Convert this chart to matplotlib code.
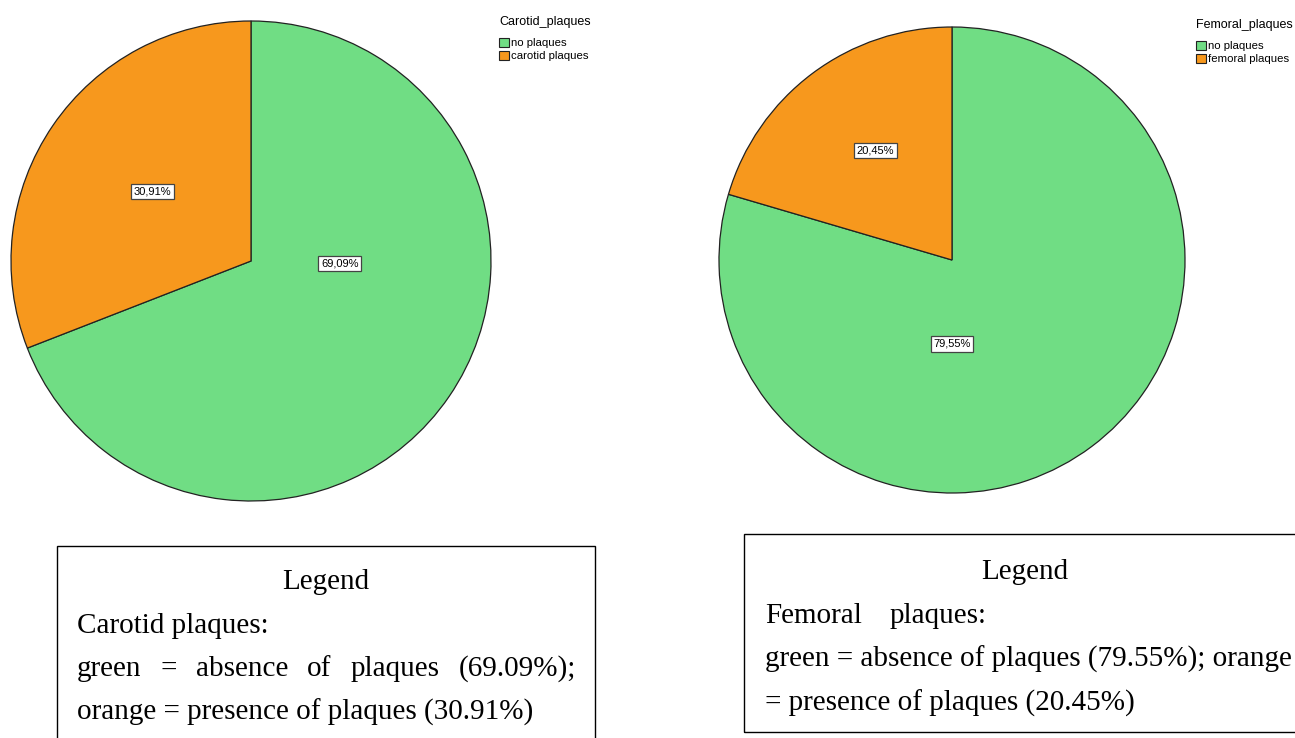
import matplotlib.pyplot as plt
from matplotlib.patches import Rectangle

# data
categories_carotid = ["no plaques", "carotid plaques"]
values_carotid = [69.09, 30.91]
categories_femoral = ["no plaques", "femoral plaques"]
values_femoral = [79.55, 20.45]
colors = ["#70DD84", "#F7981D"]

W, H = 1295, 738
fig = plt.figure(figsize=(W / 100, H / 100), dpi=100)
renderer = fig.canvas.get_renderer()


def fx(x):
    return x / W


def fy(y):
    return 1 - y / H


def draw_pie(cx, cy, r, values, label_pos, labels, title, leg_xy):
    ax = fig.add_axes([fx(cx - r), fy(cy + r), 2 * r / W, 2 * r / H])
    wedges, _ = ax.pie(values, colors=colors, startangle=90, counterclock=False,
                       radius=1, wedgeprops=dict(edgecolor="#222222", linewidth=0.9))
    ax.set_xlim(-1, 1)
    ax.set_ylim(-1, 1)
    ax.set_aspect("auto")
    ax.axis("off")
    for v, (lx, ly) in zip(values, label_pos):
        ax.text(lx, ly, f"{v:.2f}%".replace(".", ","), ha="center", va="center",
                fontsize=8, family="Liberation Sans",
                bbox=dict(boxstyle="square,pad=0.25", fc="white", ec="#444444", lw=0.9))
    leg = fig.legend(wedges, labels, title=title, loc="upper left",
                     bbox_to_anchor=(fx(leg_xy[0]), fy(leg_xy[1])),
                     frameon=False, title_fontsize=9,
                     handlelength=0.85, handleheight=0.85, handletextpad=0.2,
                     labelspacing=0.22, borderaxespad=0, borderpad=0,
                     alignment="left", prop={"family": "Liberation Sans", "size": 8.2})
    leg.get_title().set_family("Liberation Sans")
    leg._legend_box.sep = 7
    for h in leg.legend_handles:
        h.set_edgecolor("#222222")
        h.set_linewidth(0.8)


draw_pie(251, 261, 240, values_carotid, [(0.37, -0.01), (-0.41, 0.29)],
         categories_carotid, "Carotid_plaques", (499, 16))
draw_pie(952, 260, 233, values_femoral, [(0.0, -0.36), (-0.33, 0.47)],
         categories_femoral, "Femoral_plaques", (1196, 19))


# text legend boxes below the pies
def box(x0, y0, x1, y1):
    fig.add_artist(Rectangle((fx(x0), fy(y1)), (x1 - x0) / W, (y1 - y0) / H,
                             transform=fig.transFigure, fill=False,
                             ec="black", lw=1.0))


serif = dict(family="Liberation Serif", fontsize=21, va="baseline")


def justified(words, x0, x1, y):
    # spread words so the line runs from x0 to x1
    texts = [fig.text(0, fy(y), w, ha="left", **serif) for w in words]
    widths = [t.get_window_extent(renderer).width for t in texts]
    gap = (x1 - x0 - sum(widths)) / (len(words) - 1)
    x = x0
    for t, w in zip(texts, widths):
        t.set_x(fx(x))
        x += w + gap


box(57, 546, 595, 742)
fig.text(fx(326), fy(589), "Legend", ha="center", **serif)
fig.text(fx(77), fy(633), "Carotid plaques:", ha="left", **serif)
justified(["green", "=", "absence", "of", "plaques", "(69.09%);"], 77, 576, 676)
fig.text(fx(77), fy(720), "orange = presence of plaques (30.91%)", ha="left", **serif)

box(744, 534, 1297, 732)
fig.text(fx(1025), fy(579), "Legend", ha="center", **serif)
fig.text(fx(765), fy(623), "Femoral", ha="left", **serif)
fig.text(fx(890), fy(623), "plaques:", ha="left", **serif)
fig.text(fx(765), fy(667), "green = absence of plaques (79.55%); orange", ha="left", **serif)
fig.text(fx(765), fy(711), "= presence of plaques (20.45%)", ha="left", **serif)

fig.savefig("out.png", dpi=100)
